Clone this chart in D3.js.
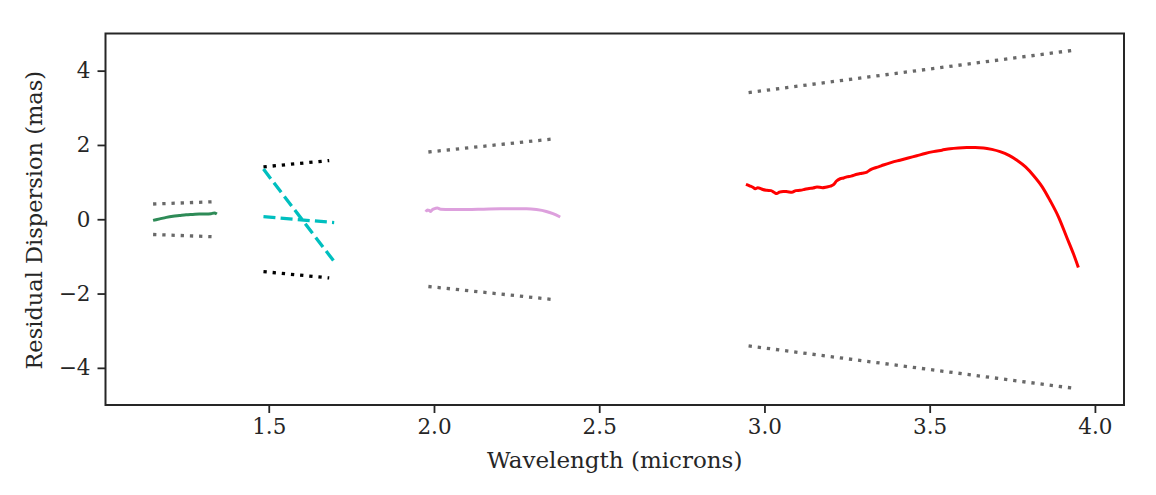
<!DOCTYPE html>
<html>
<head>
<meta charset="utf-8">
<script src="https://cdn.jsdelivr.net/npm/d3@7"></script>
<style>
  body { margin: 0; background: #fff; }
  svg text { font-family: "DejaVu Serif", serif; fill: #262626; }
</style>
</head>
<body>
<svg id="chart" width="1156" height="495"></svg>
<script>
// J band (green) and its bounds
const jX = [1.15, 1.17, 1.19, 1.21, 1.23, 1.25, 1.27, 1.29, 1.31, 1.325, 1.335, 1.343];
const jY = [-0.03, 0.01, 0.05, 0.08, 0.10, 0.12, 0.13, 0.14, 0.14, 0.15, 0.17, 0.14];
const jBoundX = [1.15, 1.33];
const jBoundY = [0.41, 0.47];

// H band (cyan dashed, two fits) and its bounds
const hX = [1.484, 1.698];
const hSteep = [1.35, -1.14];
const hFlat = [0.07, -0.09];
const hBoundX = [1.484, 1.683];
const hBoundY = [1.41, 1.58];

// K band (plum) and its bounds
const kX = [1.975, 1.98, 1.985, 1.99, 1.995, 2.0, 2.01, 2.02, 2.05, 2.1, 2.15, 2.2, 2.25, 2.28, 2.31, 2.34, 2.36, 2.382];
const kY = [0.20, 0.25, 0.24, 0.21, 0.26, 0.28, 0.30, 0.27, 0.26, 0.26, 0.27, 0.28, 0.28, 0.28, 0.26, 0.21, 0.15, 0.06];
const kBoundX = [1.983, 2.37];
const kBoundY = [1.81, 2.17];

// L band (red) and its bounds
const lX = [2.944, 2.955, 2.965, 2.972, 2.98, 2.987, 2.995, 3.007, 3.02, 3.03, 3.037, 3.045, 3.057, 3.07, 3.083, 3.095, 3.108, 3.12, 3.135, 3.147, 3.159, 3.175, 3.189, 3.2, 3.209, 3.218, 3.229, 3.24, 3.249, 3.262, 3.28, 3.295, 3.31, 3.32, 3.33, 3.345, 3.36, 3.385, 3.41, 3.435, 3.461, 3.486, 3.511, 3.537, 3.562, 3.587, 3.612, 3.638, 3.663, 3.688, 3.713, 3.74, 3.764, 3.79, 3.814, 3.84, 3.864, 3.89, 3.915, 3.935, 3.95];
const lY = [0.94, 0.90, 0.86, 0.82, 0.85, 0.83, 0.80, 0.78, 0.77, 0.72, 0.69, 0.73, 0.75, 0.74, 0.73, 0.77, 0.78, 0.80, 0.83, 0.84, 0.87, 0.85, 0.87, 0.89, 0.93, 1.03, 1.09, 1.11, 1.14, 1.16, 1.21, 1.24, 1.27, 1.33, 1.37, 1.41, 1.46, 1.53, 1.59, 1.65, 1.71, 1.77, 1.82, 1.86, 1.90, 1.92, 1.93, 1.93, 1.92, 1.88, 1.82, 1.72, 1.59, 1.41, 1.18, 0.88, 0.51, 0.06, -0.49, -0.93, -1.30];
const lBoundX = [2.952, 3.945];
const lBoundY = [3.41, 4.56];

const xTicks = [1.5, 2.0, 2.5, 3.0, 3.5, 4.0];
const yTicks = [-4, -2, 0, 2, 4];

const margin = { left: 105.5, right: 32, top: 33.5, bottom: 90 };
const width = 1156, height = 495;

const svg = d3.select('#chart');

const x = d3.scaleLinear()
  .domain([1.006, 4.088])
  .range([margin.left, width - margin.right]);

const y = d3.scaleLinear()
  .domain([-5, 5])
  .range([height - margin.bottom, margin.top]);

const line = d3.line()
  .curve(d3.curveMonotoneX)
  .x(d => x(d[0]))
  .y(d => y(d[1]));

const zip = (xs, ys) => xs.map((v, i) => [v, ys[i]]);
const neg = ys => ys.map(v => -v);

const plot = svg.append('g');

function draw(data, color, w, dash) {
  plot.append('path')
    .datum(data)
    .attr('d', line)
    .attr('fill', 'none')
    .attr('stroke', color)
    .attr('stroke-width', w)
    .attr('stroke-dasharray', dash || null);
}

const dotted = '3.3,5.9';
const dashed = '12,5.2';

// bounds
draw(zip(jBoundX, jBoundY), '#696969', 3.3, dotted);
draw(zip(jBoundX, neg(jBoundY)), '#696969', 3.3, dotted);
draw(zip(hBoundX, hBoundY), '#000000', 3.3, dotted);
draw(zip(hBoundX, neg(hBoundY)), '#000000', 3.3, dotted);
draw(zip(kBoundX, kBoundY), '#696969', 3.3, dotted);
draw(zip(kBoundX, neg(kBoundY)), '#696969', 3.3, dotted);
draw(zip(lBoundX, lBoundY), '#696969', 3.3, dotted);
draw(zip(lBoundX, neg(lBoundY)), '#696969', 3.3, dotted);

// residuals
draw(zip(jX, jY), '#2e8b57', 3);
draw(zip(hX, hSteep), '#00bfbf', 3.3, dashed);
draw(zip(hX, hFlat), '#00bfbf', 3.3, dashed);
draw(zip(kX, kY), '#dda0dd', 3);
draw(zip(lX, lY), '#ff0000', 3);

// axes
const xAxis = d3.axisBottom(x)
  .tickValues(xTicks)
  .tickFormat(d3.format('.1f'))
  .tickSize(8)
  .tickPadding(6);

const yAxis = d3.axisLeft(y)
  .tickValues(yTicks)
  .tickFormat(d => d < 0 ? '\u2212' + Math.abs(d) : d)
  .tickSize(8)
  .tickPadding(7);

const gx = svg.append('g')
  .attr('transform', `translate(0,${height - margin.bottom})`)
  .call(xAxis);
const gy = svg.append('g')
  .attr('transform', `translate(${margin.left},0)`)
  .call(yAxis);

[gx, gy].forEach(g => {
  g.select('.domain').remove();
  g.selectAll('.tick line').attr('stroke', '#262626').attr('stroke-width', 1.8);
  g.selectAll('.tick text').attr('font-size', 21.5).attr('fill', '#262626');
});

// frame
svg.append('rect')
  .attr('x', margin.left)
  .attr('y', margin.top)
  .attr('width', width - margin.right - margin.left)
  .attr('height', height - margin.bottom - margin.top)
  .attr('fill', 'none')
  .attr('stroke', '#262626')
  .attr('stroke-width', 2);

svg.append('text')
  .attr('x', (margin.left + width - margin.right) / 2)
  .attr('y', 468)
  .attr('text-anchor', 'middle')
  .attr('font-size', 23)
  .text('Wavelength (microns)');

svg.append('text')
  .attr('transform', `translate(42,${(margin.top + height - margin.bottom) / 2 + 1}) rotate(-90)`)
  .attr('text-anchor', 'middle')
  .attr('font-size', 22.5)
  .text('Residual Dispersion (mas)');
</script>
</body>
</html>
